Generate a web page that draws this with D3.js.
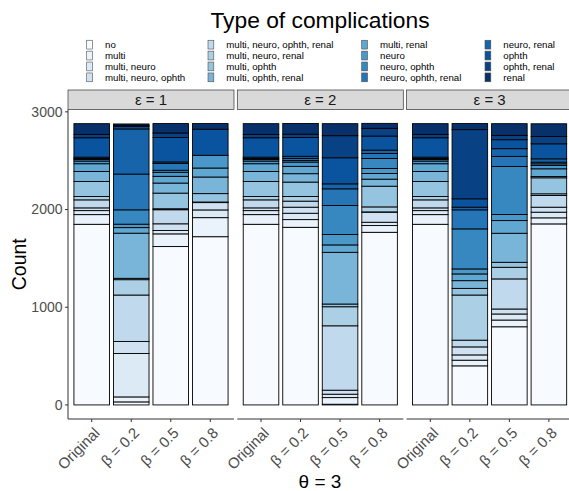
<!DOCTYPE html>
<html>
<head>
<meta charset="utf-8">
<script src="https://cdn.jsdelivr.net/npm/d3@7"></script>
<style>
  body { margin: 0; background: #fff; }
  svg { display: block; font-family: "Liberation Sans", Arial, sans-serif; }
</style>
</head>
<body>
<svg id="chart" width="569" height="491"></svg>
<script>
// Complication types, stacked bottom (no) to top (renal)
const complications = [
  "no", "multi", "multi, neuro", "multi, neuro, ophth",
  "multi, neuro, ophth, renal", "multi, neuro, renal", "multi, ophth", "multi, ophth, renal",
  "multi, renal", "neuro", "neuro, ophth", "neuro, ophth, renal",
  "neuro, renal", "ophth", "ophth, renal", "renal"
];
const epsilonLevels = ["1", "2", "3"];
const methods = ["Original", "β = 0.2", "β = 0.5", "β = 0.8"];
const yTicks = [0, 1000, 2000, 3000];

// Counts per complication type (same order as `complications`)
const original   = [1849, 99, 41, 28, 82, 34, 154, 103, 79, 27, 17, 10, 13, 199, 34, 110];

const eps1Beta02 = [31, 51, 445, 123, 475, 157, 14, 462, 57, 35, 147, 366, 462, 24, 13, 14];
const eps1Beta05 = [1621, 130, 34, 69, 144, 10, 160, 103, 69, 41, 21, 69, 16, 250, 47, 96];
const eps1Beta08 = [1722, 195, 79, 75, 3, 3, 86, 170, 92, 130, 0, 0, 0, 267, 0, 58];

const eps2Beta02 = [1818, 79, 65, 62, 62, 48, 147, 86, 75, 44, 17, 21, 21, 192, 34, 110];
const eps2Beta05 = [7, 68, 35, 41, 659, 195, 28, 529, 76, 106, 297, 171, 51, 267, 226, 123];
const eps2Beta08 = [1767, 69, 34, 103, 3, 51, 212, 72, 58, 51, 103, 51, 34, 144, 79, 51];

const eps3Beta02 = [400, 58, 54, 82, 69, 462, 68, 79, 69, 51, 410, 195, 27, 86, 708, 62];
const eps3Beta05 = [800, 69, 62, 51, 308, 119, 51, 297, 130, 62, 492, 103, 79, 92, 44, 120];
const eps3Beta08 = [1853, 62, 58, 51, 120, 17, 164, 13, 79, 34, 17, 17, 34, 154, 75, 130];

const seriesByEpsilon = [
  [original, eps1Beta02, eps1Beta05, eps1Beta08],
  [original, eps2Beta02, eps2Beta05, eps2Beta08],
  [original, eps3Beta02, eps3Beta05, eps3Beta08]
];

// Build one row per bar for d3.stack
const rows = [];
epsilonLevels.forEach((eps, ei) => {
  methods.forEach((m, mi) => {
    const row = { eps, method: m };
    complications.forEach((c, ci) => { row[c] = seriesByEpsilon[ei][mi][ci]; });
    rows.push(row);
  });
});

// 16-step Blues ramp
const ramp = d3.piecewise(d3.interpolateRgb, d3.schemeBlues[9]);
const color = d3.scaleOrdinal()
  .domain(complications)
  .range(complications.map((_, i) => ramp(i / (complications.length - 1))));

const svg = d3.select("#chart");

const panelTop = 109.5, panelBottom = 419;
const stripTop = 90, stripBottom = panelTop;

const facetX = d3.scaleBand()
  .domain(epsilonLevels)
  .range([68, 572.6])
  .paddingInner(0.0195);

const x = d3.scaleBand()
  .domain(methods)
  .range([0, facetX.bandwidth()])
  .paddingInner(0.1)
  .paddingOuter(0.15);

const y = d3.scaleLinear()
  .domain([-144, 3024])
  .range([panelBottom, panelTop]);

const stack = d3.stack().keys(complications);

// Title
svg.append("text")
  .attr("x", 320).attr("y", 28)
  .attr("text-anchor", "middle")
  .attr("font-size", 22.8)
  .attr("fill", "#000")
  .text("Type of complications");

// Legend: 4 columns x 4 rows, filled column by column
const legend = svg.append("g");
const legendFont = 9.7;
const legendRowStep = 10.9;
const legendColX = [86.7, 208, 361.7, 485];
legendColX.forEach((colX, col) => {
  complications.slice(col * 4, col * 4 + 4).forEach((c, r) => {
    const cy = 44.65 + r * legendRowStep;
    legend.append("rect")
      .attr("x", colX).attr("y", cy - 4.4)
      .attr("width", 5.8).attr("height", 8.8)
      .attr("fill", color(c))
      .attr("stroke", "#4d4d4d").attr("stroke-width", 0.6);
    legend.append("text")
      .attr("x", colX + 18.3).attr("y", cy)
      .attr("dy", "0.35em")
      .attr("font-size", legendFont)
      .attr("fill", "#000")
      .text(c);
  });
});

// Facet panels
epsilonLevels.forEach((eps, ei) => {
  const px = facetX(eps);
  const g = svg.append("g").attr("transform", `translate(${px},0)`);
  const panelRows = rows.filter(r => r.eps === eps);
  const stacked = stack(panelRows);

  // strip
  g.append("rect")
    .attr("x", 0).attr("y", stripTop)
    .attr("width", facetX.bandwidth()).attr("height", stripBottom - stripTop)
    .attr("fill", "#d9d9d9")
    .attr("stroke", "#333").attr("stroke-width", 0.7);
  g.append("text")
    .attr("x", facetX.bandwidth() / 2).attr("y", (stripTop + stripBottom) / 2)
    .attr("dy", "0.35em")
    .attr("text-anchor", "middle")
    .attr("font-size", 15)
    .attr("fill", "#1a1a1a")
    .text(`ε = ${eps}`);

  // stacked bars
  stacked.forEach(layer => {
    g.append("g")
      .selectAll("rect")
      .data(layer)
      .join("rect")
      .attr("x", d => x(d.data.method))
      .attr("width", x.bandwidth())
      .attr("y", d => y(d[1]))
      .attr("height", d => y(d[0]) - y(d[1]))
      .attr("fill", color(layer.key))
      .attr("stroke", "#000")
      .attr("stroke-width", 0.9);
  });

  // x axis per panel
  const xAxis = g.append("g").attr("transform", `translate(0,${panelBottom})`);
  xAxis.append("line")
    .attr("x1", 0).attr("x2", facetX.bandwidth())
    .attr("stroke", "#333").attr("stroke-width", 1);
  methods.forEach(m => {
    const cx = x(m) + x.bandwidth() / 2;
    xAxis.append("line")
      .attr("x1", cx).attr("x2", cx).attr("y1", 0).attr("y2", 3)
      .attr("stroke", "#333").attr("stroke-width", 1);
    xAxis.append("text")
      .attr("transform", `translate(${cx + 1},${7}) rotate(-45)`)
      .attr("text-anchor", "end")
      .attr("dy", "0.75em")
      .attr("font-size", 15)
      .attr("fill", "#4d4d4d")
      .text(m);
  });
});

// y axis on the first panel
const yAxis = svg.append("g").attr("transform", `translate(${facetX(epsilonLevels[0])},0)`);
yAxis.append("line")
  .attr("y1", panelTop).attr("y2", panelBottom)
  .attr("stroke", "#333").attr("stroke-width", 1);
yTicks.forEach(t => {
  yAxis.append("line")
    .attr("x1", -3).attr("x2", 0).attr("y1", y(t)).attr("y2", y(t))
    .attr("stroke", "#333").attr("stroke-width", 1);
  yAxis.append("text")
    .attr("x", -5.5).attr("y", y(t))
    .attr("dy", "0.35em")
    .attr("text-anchor", "end")
    .attr("font-size", 14)
    .attr("fill", "#4d4d4d")
    .text(t);
});

// axis titles
svg.append("text")
  .attr("transform", `translate(25.5,${(panelTop + panelBottom) / 2}) rotate(-90)`)
  .attr("text-anchor", "middle")
  .attr("font-size", 19.5)
  .attr("fill", "#000")
  .text("Count");

svg.append("text")
  .attr("x", 320).attr("y", 487.5)
  .attr("text-anchor", "middle")
  .attr("font-size", 19)
  .attr("fill", "#000")
  .text("θ = 3");
</script>
</body>
</html>
